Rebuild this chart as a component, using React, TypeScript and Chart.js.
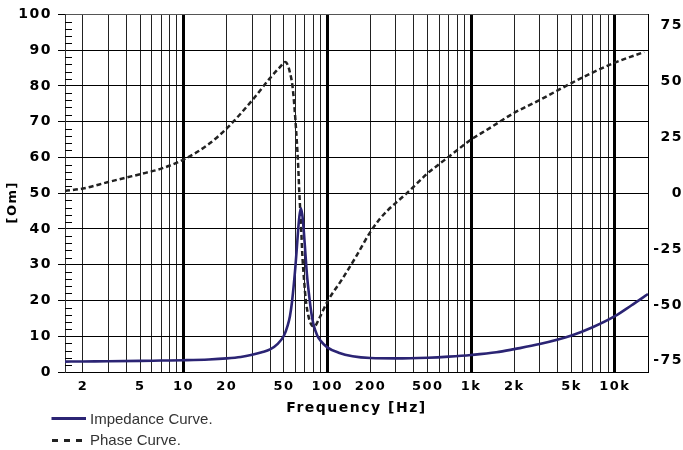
import React, { useEffect, useRef } from 'react';
import { Chart, registerables } from 'chart.js';

Chart.register(...registerables);

// ---- data ----
const impedanceFreq = [1.5, 2, 3, 5, 7, 10, 15, 20, 25, 30, 35, 40, 45, 50, 53, 55, 57, 60, 61.5, 62.8, 64, 65.5, 67, 68.5, 70.5, 72.3, 75, 77.5, 80, 85, 90, 100, 120, 150, 200, 300, 500, 700, 1000, 1500, 2000, 3000, 5000, 7000, 10000, 13000, 17000];
const impedanceOhm = [2.9, 2.95, 3.0, 3.1, 3.2, 3.3, 3.5, 3.8, 4.2, 4.8, 5.5, 6.3, 7.8, 10.2, 13, 15.6, 20, 29.3, 35, 40, 43.5, 45.8, 44, 40, 33, 27, 21, 16.5, 13.5, 10.3, 8.7, 6.9, 5.4, 4.4, 3.9, 3.8, 4.0, 4.3, 4.75, 5.5, 6.4, 7.8, 10.2, 12.5, 15.6, 18.6, 21.8];

const phaseFreq = [1.5, 2, 3, 4, 5, 7, 10, 15, 20, 30, 40, 47, 51, 53, 55, 57.4, 60, 62.8, 63.8, 65.6, 67.2, 69, 70.9, 74, 77, 81, 88, 100, 128, 158, 200, 230, 260, 300, 350, 400, 500, 600, 700, 900, 1000, 1330, 2000, 3000, 4000, 5000, 7000, 10000, 16000];
const phaseDeg = [1, 2.1, 5, 7, 8.5, 11, 15, 22, 29, 41.5, 51.5, 56.5, 58.7, 57.5, 54, 47.5, 33, 12, 1.3, -13.6, -28.5, -39, -47.8, -55, -58.5, -59.7, -56, -48.6, -38.1, -28.5, -17.2, -11.8, -8, -4.3, -0.5, 3, 9, 13, 16.3, 21.8, 24, 28.9, 36, 41.7, 46, 49.3, 54, 58.4, 63.2];

// ---- axes / ticks ----
const xMin = 1.5;
const xMax = 17000;
const xLabelValues = [2, 5, 10, 20, 50, 100, 200, 500, 1000, 2000, 5000, 10000];
const xLabelTexts = ['2', '5', '10', '20', '50', '100', '200', '500', '1k', '2k', '5k', '10k'];
const xDecades = [1, 10, 100, 1000, 10000];
const xMultipliers = [1, 2, 3, 4, 5, 6, 7, 8, 9];

const ohmMajorTicks = [0, 10, 20, 30, 40, 50, 60, 70, 80, 90, 100];
const ohmMinorTicks = [2, 4, 6, 8, 12, 14, 16, 18, 22, 24, 26, 28, 32, 34, 36, 38, 42, 44, 46, 48, 52, 54, 56, 58, 62, 64, 66, 68, 72, 74, 76, 78, 82, 84, 86, 88, 92, 94, 96, 98];
const phaseTicks = [-75, -50, -25, 0, 25, 50, 75];

const FONT = "'DejaVu Sans', 'Liberation Sans', sans-serif";
const IMP_COLOR = '#2b2474';
const PHASE_COLOR = '#222222';
const W = 683;
const H = 450;

const xGridValues: number[] = [];
xDecades.forEach((d) => xMultipliers.forEach((m) => {
  const v = m * d;
  if (v >= xMin && v <= xMax) xGridValues.push(v);
}));

const letterSpacingPlugin = {
  id: 'letterSpacing',
  afterInit(chart: any) { chart.ctx.letterSpacing = '1.5px'; },
  beforeUpdate(chart: any) { chart.ctx.letterSpacing = '1.5px'; },
  beforeDraw(chart: any) { chart.ctx.letterSpacing = '1.5px'; },
};

const minorTickPlugin = {
  id: 'minorTicks',
  afterDatasetsDraw(chart: any) {
    const y = chart.scales.y;
    const { ctx, chartArea } = chart;
    ctx.save();
    ctx.strokeStyle = '#000';
    ctx.lineWidth = 1;
    ctx.beginPath();
    ohmMinorTicks.forEach((v) => {
      const py = Math.round(y.getPixelForValue(v)) + 0.5;
      ctx.moveTo(chartArea.left, py);
      ctx.lineTo(chartArea.left + 7, py);
    });
    ctx.stroke();
    ctx.restore();
  },
};

export default function App() {
  const canvasRef = useRef<HTMLCanvasElement | null>(null);

  useEffect(() => {
    if (!canvasRef.current) return;
    const chart = new Chart(canvasRef.current, {
      type: 'line',
      data: {
        datasets: [
          {
            label: 'Impedance Curve.',
            data: impedanceFreq.map((f, i) => ({ x: f, y: impedanceOhm[i] })),
            borderColor: IMP_COLOR,
            borderWidth: 2.6,
            pointRadius: 0,
            cubicInterpolationMode: 'monotone',
            yAxisID: 'y',
          },
          {
            label: 'Phase Curve.',
            data: phaseFreq.map((f, i) => ({ x: f, y: phaseDeg[i] })),
            borderColor: PHASE_COLOR,
            borderWidth: 2.5,
            borderDash: [5, 3],
            pointRadius: 0,
            cubicInterpolationMode: 'monotone',
            yAxisID: 'y2',
          },
        ],
      },
      options: {
        animation: false,
        responsive: false,
        maintainAspectRatio: false,
        layout: { padding: { left: 0, right: 0, top: 13, bottom: 0 } },
        plugins: {
          legend: { display: false },
          tooltip: { enabled: false },
        },
        scales: {
          x: {
            type: 'logarithmic',
            min: xMin,
            max: xMax,
            afterBuildTicks: (scale: any) => {
              scale.ticks = xGridValues.map((v) => ({ value: v }));
            },
            afterFit: (scale: any) => { scale.height = 78; },
            ticks: {
              autoSkip: false,
              maxRotation: 0,
              minRotation: 0,
              padding: 7,
              color: '#000',
              font: { family: FONT, size: 13, weight: 'bold' },
              callback: (value: any) => {
                const idx = xLabelValues.indexOf(Number(value));
                return idx >= 0 ? xLabelTexts[idx] : '';
              },
            },
            grid: {
              drawTicks: false,
              color: (ctx: any) => (ctx.tick && xDecades.includes(ctx.tick.value) ? '#000' : '#222'),
              lineWidth: (ctx: any) => (ctx.tick && xDecades.includes(ctx.tick.value) ? 3 : 1),
            },
            border: { display: true, color: '#000', width: 1 },
            title: {
              display: true,
              text: 'Frequency [Hz]',
              color: '#000',
              font: { family: FONT, size: 14, weight: 'bold' },
              padding: { top: 0, bottom: 33 },
            },
          },
          y: {
            type: 'linear',
            position: 'left',
            min: 0,
            max: 100,
            afterBuildTicks: (scale: any) => {
              scale.ticks = ohmMajorTicks.map((v) => ({ value: v }));
            },
            afterFit: (scale: any) => { scale.width = 65; },
            ticks: {
              padding: 6,
              color: '#000',
              font: { family: FONT, size: 14, weight: 'bold' },
              callback: (value: any) => String(value),
            },
            grid: {
              color: (ctx: any) => (ctx.tick && ctx.tick.value === 100 ? '#555' : '#000'),
              lineWidth: 1,
              tickLength: 7,
              tickColor: '#000',
            },
            border: { display: true, color: '#333', width: 1 },
            title: {
              display: true,
              text: '[Om]   ',
              color: '#000',
              font: { family: FONT, size: 13, weight: 'bold' },
              padding: { top: 5, bottom: 0 },
            },
          },
          y2: {
            type: 'linear',
            position: 'right',
            min: -80,
            max: 80,
            afterBuildTicks: (scale: any) => {
              scale.ticks = phaseTicks.map((v) => ({ value: v }));
            },
            afterFit: (scale: any) => { scale.width = W - 648; },
            ticks: {
              padding: 6,
              crossAlign: 'far',
              color: '#000',
              font: { family: FONT, size: 14, weight: 'bold' },
              callback: (value: any) => String(value),
            },
            grid: { drawOnChartArea: false, drawTicks: false },
            border: { display: true, color: '#000', width: 1 },
          },
        },
      } as any,
      plugins: [letterSpacingPlugin, minorTickPlugin],
    });
    return () => chart.destroy();
  }, []);

  const textStyle: React.CSSProperties = {
    position: 'absolute',
    left: 90,
    fontFamily: "'Liberation Sans', Arial, sans-serif",
    fontSize: 15,
    lineHeight: '18px',
    color: '#333',
    whiteSpace: 'nowrap',
  };

  return (
    <div style={{ position: 'absolute', left: 0, top: 0, width: W, height: H, overflow: 'hidden', background: '#fff' }}>
      <canvas ref={canvasRef} width={W} height={H} style={{ display: 'block', width: W, height: H }} />
      <svg style={{ position: 'absolute', left: 51, top: 414 }} width={36} height={9}>
        <line x1={0.5} y1={4.5} x2={35} y2={4.5} stroke={IMP_COLOR} strokeWidth={3} />
      </svg>
      <div style={{ ...textStyle, top: 409.5 }}>Impedance Curve.</div>
      <svg style={{ position: 'absolute', left: 52, top: 436 }} width={34} height={9}>
        <line x1={0} y1={4.5} x2={31} y2={4.5} stroke={PHASE_COLOR} strokeWidth={3} strokeDasharray="6 6" />
      </svg>
      <div style={{ ...textStyle, top: 431 }}>Phase Curve.</div>
    </div>
  );
}
